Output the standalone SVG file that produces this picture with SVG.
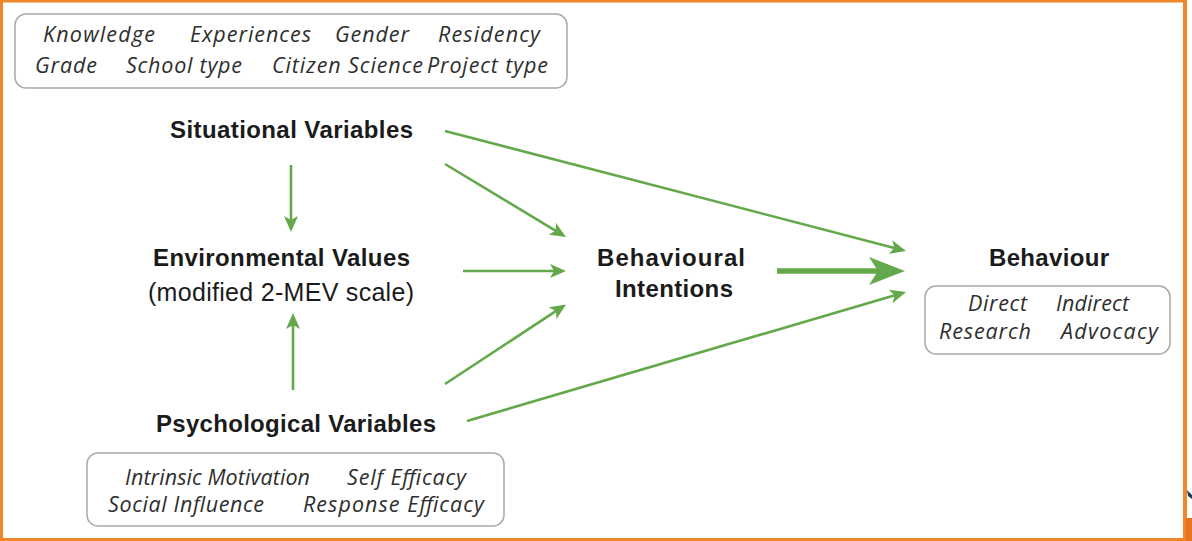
<svg xmlns="http://www.w3.org/2000/svg" width="1192" height="541" viewBox="0 0 1192 541">
  <style>
    .head { font-family: "Liberation Sans", Arial, sans-serif; font-weight: 700; font-size: 24px; fill: #1b1b1b; text-anchor: middle; }
    .sub { font-family: "Liberation Sans", Arial, sans-serif; font-weight: 400; font-size: 25px; fill: #1b1b1b; text-anchor: middle; }
    .item { font-family: "Open Sans", "Liberation Sans", sans-serif; font-style: italic; font-size: 21.5px; fill: #2e2e2e; }
    .box { fill: #ffffff; stroke: #a9a9a9; stroke-width: 1.5; }
    .link { fill: none; stroke: #63a84a; stroke-width: 2.6; }
    .link-thick { fill: none; stroke: #63a84a; stroke-width: 5.5; }
  </style>
  <defs>
    <marker id="head-thin" markerUnits="userSpaceOnUse" viewBox="0 0 16 14" markerWidth="16" markerHeight="14" refX="7" refY="7" orient="auto">
      <path d="M0,0 L16,7 L0,14 L4,7 z" fill="#63a84a"/>
    </marker>
    <marker id="head-thick" markerUnits="userSpaceOnUse" viewBox="0 0 36 28" markerWidth="36" markerHeight="28" refX="12" refY="14" orient="auto">
      <path d="M0,0 L36,14 L0,28 L9,14 z" fill="#63a84a"/>
    </marker>
  </defs>

  <!-- page background and frame -->
  <rect x="0" y="0" width="1192" height="541" fill="#ffffff"/>
  <rect x="1.5" y="1" width="1183.5" height="538.5" fill="none" stroke="#f0862a" stroke-width="3"/>
  <rect x="1183" y="0" width="4" height="541" fill="#f0862a"/>
  <rect x="1186" y="518" width="6" height="23" fill="#e8741f"/>
  <path d="M1187,490 L1192,495 L1192,499 L1188,496 z" fill="#1d3b57"/>

  <!-- connectors -->
  <g id="connectors">
    <line class="link" x1="291" y1="165" x2="291" y2="223" marker-end="url(#head-thin)"/>
    <line class="link" x1="293" y1="390" x2="293" y2="322" marker-end="url(#head-thin)"/>
    <line class="link" x1="463" y1="271" x2="557" y2="271" marker-end="url(#head-thin)"/>
    <line class="link" x1="445" y1="164" x2="558.3" y2="232.4" marker-end="url(#head-thin)"/>
    <line class="link" x1="445" y1="384" x2="558.5" y2="309.4" marker-end="url(#head-thin)"/>
    <line class="link" x1="445" y1="131" x2="897.3" y2="248.7" marker-end="url(#head-thin)"/>
    <line class="link" x1="467" y1="421" x2="897.4" y2="294.5" marker-end="url(#head-thin)"/>
    <line class="link-thick" x1="777" y1="271" x2="881" y2="271" marker-end="url(#head-thick)"/>
  </g>

  <!-- situational variables -->
  <g id="situational">
    <rect class="box" x="15" y="14" width="552" height="74" rx="11"/>
    <text class="item" x="43" y="42" textLength="112">Knowledge</text>
    <text class="item" x="190" y="42" textLength="121">Experiences</text>
    <text class="item" x="335" y="42" textLength="74">Gender</text>
    <text class="item" x="438" y="42" textLength="102">Residency</text>
    <text class="item" x="35" y="73" textLength="62">Grade</text>
    <text class="item" x="126" y="73" textLength="116">School type</text>
    <text class="item" x="272" y="73" textLength="151">Citizen Science</text>
    <text class="item" x="427" y="73" textLength="121">Project type</text>
    <text class="head" x="291.5" y="138" textLength="243">Situational Variables</text>
  </g>

  <!-- environmental values -->
  <g id="environmental">
    <text class="head" x="281.5" y="266" textLength="257">Environmental Values</text>
    <text class="sub" x="281" y="301" textLength="266">(modified 2-MEV scale)</text>
  </g>

  <!-- psychological variables -->
  <g id="psychological">
    <text class="head" x="296" y="432" textLength="280">Psychological Variables</text>
    <rect class="box" x="87" y="453" width="417" height="73" rx="11"/>
    <text class="item" x="125" y="485" textLength="185">Intrinsic Motivation</text>
    <text class="item" x="347" y="485" textLength="119">Self Efficacy</text>
    <text class="item" x="108" y="512" textLength="156">Social Influence</text>
    <text class="item" x="303" y="512" textLength="181">Response Efficacy</text>
  </g>

  <!-- behavioural intentions -->
  <g id="intentions">
    <text class="head" x="671" y="266" textLength="148">Behavioural</text>
    <text class="head" x="674" y="297" textLength="118">Intentions</text>
  </g>

  <!-- behaviour -->
  <g id="behaviour">
    <text class="head" x="1049" y="266" textLength="120">Behaviour</text>
    <rect class="box" x="925" y="286" width="245" height="68" rx="11"/>
    <text class="item" x="968" y="311" textLength="59">Direct</text>
    <text class="item" x="1056" y="311" textLength="73">Indirect</text>
    <text class="item" x="939" y="339" textLength="92">Research</text>
    <text class="item" x="1061" y="339" textLength="97">Advocacy</text>
  </g>
</svg>
